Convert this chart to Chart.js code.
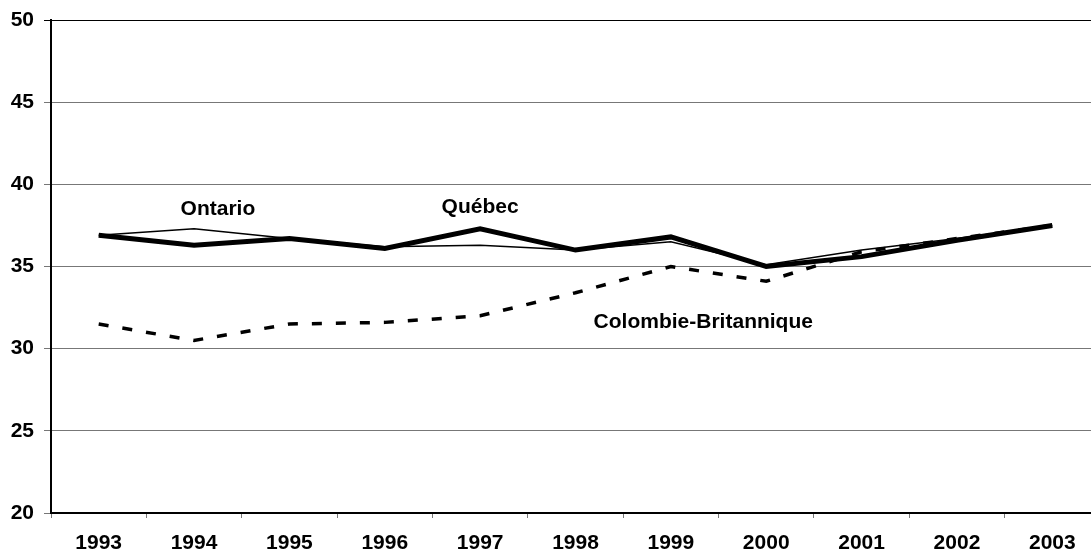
<!DOCTYPE html>
<html>
<head>
<meta charset="utf-8">
<script src="https://cdn.jsdelivr.net/npm/chart.js@4"></script>
<style>
  html, body { margin: 0; padding: 0; background: #fff; overflow: hidden; }
  #wrap { width: 1091px; height: 553px; overflow: hidden; }
</style>
</head>
<body>
<div id="wrap"><canvas id="chart" width="1100" height="553"></canvas></div>
<script>
// Years on the x axis
const years = ["1993", "1994", "1995", "1996", "1997", "1998", "1999", "2000", "2001", "2002", "2003"];

// Series values
const ontario = [36.9, 37.3, 36.7, 36.2, 36.3, 36.0, 36.5, 35.1, 36.0, 36.7, 37.5];
const quebec = [36.9, 36.3, 36.7, 36.1, 37.3, 36.0, 36.8, 35.0, 35.6, 36.6, 37.5];
const colombie = [31.5, 30.5, 31.5, 31.6, 32.0, 33.4, 35.0, 34.1, 35.9, 36.7, 37.5];

// Labels written next to the lines (category index, value)
const seriesNames = ["Ontario", "Québec", "Colombie-Britannique"];
const nameAtIndex = [1.25, 4.0, 6.34];
const nameAtValue = [38.5, 38.6, 31.6];

const fontFamily = "'Liberation Sans', Arial, sans-serif";

// Draws the series names inside the plot, placed through the scales
const seriesLabels = {
    id: "seriesLabels",
    afterDatasetsDraw(chart) {
        const ctx = chart.ctx;
        const x = chart.scales.x;
        const y = chart.scales.y;
        ctx.save();
        ctx.font = "bold 21px " + fontFamily;
        ctx.fillStyle = "#000";
        ctx.textAlign = "center";
        ctx.textBaseline = "middle";
        for (let i = 0; i < seriesNames.length; i++) {
            ctx.fillText(seriesNames[i], x.getPixelForValue(nameAtIndex[i]), y.getPixelForValue(nameAtValue[i]));
        }
        ctx.restore();
    }
};

const ctx = document.getElementById("chart").getContext("2d");

new Chart(ctx, {
    type: "line",
    data: {
        labels: years,
        datasets: [
            {
                label: "Ontario",
                data: ontario,
                borderColor: "#000",
                borderWidth: 1.5,
                pointRadius: 0,
                fill: false,
                tension: 0,
            },
            {
                label: "Québec",
                data: quebec,
                borderColor: "#000",
                borderWidth: 5,
                pointRadius: 0,
                fill: false,
                tension: 0,
            },
            {
                label: "Colombie-Britannique",
                data: colombie,
                borderColor: "#000",
                borderWidth: 3.5,
                borderDash: [10, 14],
                pointRadius: 0,
                fill: false,
                tension: 0,
            },
        ],
    },
    options: {
        responsive: false,
        animation: false,
        layout: {
            padding: { top: 20, left: 0, right: 0, bottom: 0 },
        },
        plugins: {
            legend: { display: false },
            tooltip: { enabled: false },
        },
        scales: {
            x: {
                offset: true,
                grid: {
                    offset: true,
                    drawOnChartArea: false,
                    color: "#777",
                    tickLength: 5,
                },
                border: { color: "#000", width: 2 },
                ticks: {
                    color: "#000",
                    padding: 13,
                    maxRotation: 0,
                    font: { family: fontFamily, size: 21, weight: "bold" },
                },
                afterFit(scale) {
                    scale.height = 40;
                    scale.paddingLeft = 0;
                    scale.paddingRight = 0;
                },
            },
            y: {
                min: 20,
                max: 50,
                ticks: {
                    stepSize: 5,
                    color: "#000",
                    padding: 10,
                    font: { family: fontFamily, size: 21, weight: "bold" },
                },
                grid: {
                    color: (c) => c.tick && c.tick.value === 50 ? "#000" : "#777",
                    tickLength: 7,
                    lineWidth: 1,
                },
                border: { color: "#000", width: 2 },
                afterFit(scale) {
                    scale.width = 51;
                    scale.paddingTop = 0;
                    scale.paddingBottom = 0;
                },
            },
        },
    },
    plugins: [seriesLabels],
});
</script>
</body>
</html>
